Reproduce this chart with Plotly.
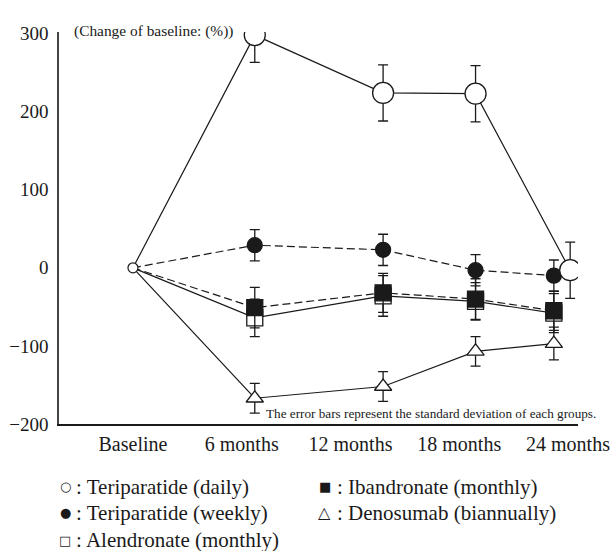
import plotly.graph_objects as go

# ---- data ----
time_labels = ["Baseline", "6 months", "12 months", "18 months", "24 months"]
time_ticks = [0, 1, 2, 3, 4]
# measured horizontal placement of each time point (in tick-label units)
time_pos = [0, 1.12, 2.30, 3.15, 3.87]
time_pos_daily = [0, 1.12, 2.30, 3.15, 4.02]

teri_daily = [0, 298, 224, 223, -3]
teri_daily_sd = [0, 35, 36, 36, 36]
teri_weekly = [0, 29, 23, -3, -10]
teri_weekly_sd = [0, 20, 20, 20, 20]
alendronate = [0, -64, -36, -43, -58]
alendronate_sd = [0, 24, 26, 24, 25]
ibandronate = [0, -51, -32, -40, -55]
ibandronate_sd = [0, 26, 25, 26, 25]
denosumab = [0, -167, -152, -107, -97]
denosumab_sd = [0, 19, 19, 19, 21]

y_ticks = [-200, -100, 0, 100, 200, 300]

legend_col1 = ["Teriparatide (daily)", "Teriparatide (weekly)", "Alendronate (monthly)"]
legend_col2 = ["Ibandronate (monthly)", "Denosumab (biannually)"]
legend_sym1 = ["○", "●", "□"]
legend_sym2 = ["■", "△"]
legend_sym2_size = [13, 16]

axis_label = "(Change of baseline: (%))"
note = "The error bars represent the standard deviation of each groups."

FONT = "Liberation Serif"
INK = "#1a1a1a"

series = [
    dict(x=time_pos, y=denosumab, sd=denosumab_sd, dash="solid", sym="triangle-up", fill="white", size=15),
    dict(x=time_pos, y=alendronate, sd=alendronate_sd, dash="solid", sym="square", fill="white", size=16),
    dict(x=time_pos, y=ibandronate, sd=ibandronate_sd, dash="8px,4px", sym="square", fill=INK, size=16),
    dict(x=time_pos, y=teri_weekly, sd=teri_weekly_sd, dash="8px,4px", sym="circle", fill=INK, size=15),
    dict(x=time_pos_daily, y=teri_daily, sd=teri_daily_sd, dash="solid", sym="circle", fill="white", size=21),
]

fig = go.Figure()

# connecting lines (start at baseline)
for s in series:
    fig.add_trace(go.Scatter(
        x=s["x"], y=s["y"], mode="lines",
        line=dict(color=INK, width=1.2, dash=s["dash"]),
        hoverinfo="skip", showlegend=False,
    ))

# markers with error bars (follow-up time points)
for s in series:
    fig.add_trace(go.Scatter(
        x=s["x"][1:], y=s["y"][1:], mode="markers",
        marker=dict(symbol=s["sym"], size=s["size"], color=s["fill"],
                    line=dict(color=INK, width=1.3)),
        error_y=dict(type="data", array=s["sd"][1:], visible=True,
                     color=INK, thickness=1.3, width=5),
        showlegend=False,
    ))

# baseline point
fig.add_trace(go.Scatter(
    x=time_pos_daily[:1], y=teri_daily[:1], mode="markers",
    marker=dict(symbol="circle", size=10, color="white", line=dict(color=INK, width=1.2)),
    showlegend=False,
))

annotations = [
    dict(text=axis_label, xref="paper", yref="paper", x=0.026, y=1.0026,
         xanchor="left", yanchor="middle", showarrow=False,
         font=dict(family=FONT, size=15.4, color=INK)),
    dict(text=note, xref="paper", yref="paper", x=1.0385, y=0.026,
         xanchor="right", yanchor="middle", showarrow=False,
         font=dict(family=FONT, size=13.2, color=INK)),
]

row_y = [-0.160, -0.226, -0.297]
for i, (sym, lab) in enumerate(zip(legend_sym1, legend_col1)):
    annotations.append(dict(text=sym, xref="paper", yref="paper", x=0.0116, y=row_y[i],
                            xanchor="center", yanchor="middle", showarrow=False,
                            font=dict(family="DejaVu Sans", size=13, color=INK)))
    annotations.append(dict(text=": " + lab, xref="paper", yref="paper", x=0.0289, y=row_y[i],
                            xanchor="left", yanchor="middle", showarrow=False,
                            font=dict(family=FONT, size=21, color=INK)))
for i, (sym, lab) in enumerate(zip(legend_sym2, legend_col2)):
    annotations.append(dict(text=sym, xref="paper", yref="paper", x=0.5125, y=row_y[i],
                            xanchor="center", yanchor="middle", showarrow=False,
                            font=dict(family="DejaVu Sans", size=legend_sym2_size[i], color=INK)))
    annotations.append(dict(text=": " + lab, xref="paper", yref="paper", x=0.531, y=row_y[i],
                            xanchor="left", yanchor="middle", showarrow=False,
                            font=dict(family=FONT, size=21, color=INK)))

fig.update_layout(
    width=614, height=551,
    margin=dict(l=59, r=36, t=32, b=127),
    paper_bgcolor="white", plot_bgcolor="white",
    font=dict(family=FONT, color=INK),
    xaxis=dict(range=[-0.68, 4.092], tickmode="array", tickvals=time_ticks, ticktext=time_labels,
               showgrid=False, zeroline=False, showline=True, linecolor=INK, linewidth=2,
               ticks="", ticklabelstandoff=1, automargin=False,
               tickfont=dict(family=FONT, size=20, color=INK)),
    yaxis=dict(range=[-200, 302], tickmode="array", tickvals=y_ticks,
               showgrid=False, zeroline=False, showline=True, linecolor="#444", linewidth=1.5,
               ticks="", ticklabelstandoff=5, automargin=False,
               tickfont=dict(family=FONT, size=19, color=INK)),
    annotations=annotations,
    showlegend=False,
)

fig.write_html("out.html", config={"displayModeBar": False},
               post_script="document.body.style.margin='0';document.body.style.overflow='hidden';")
